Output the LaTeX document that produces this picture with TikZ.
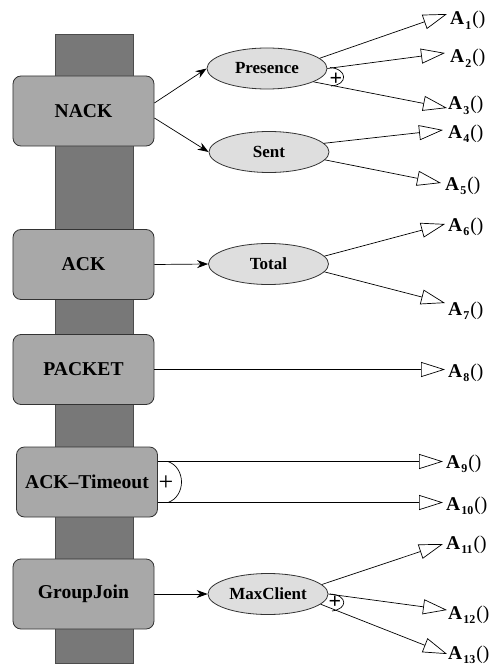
\documentclass[tikz,border=0pt]{standalone}
\usepackage{fontspec}
\setmainfont{Liberation Serif}
\usetikzlibrary{arrows.meta,shapes.geometric}
\definecolor{colfill}{gray}{0.47}
\definecolor{boxfill}{gray}{0.66}
\definecolor{ellfill}{gray}{0.87}
\newcommand{\alab}[1]{\textbf{A}\kern1bp\raisebox{-4.5bp}{\fontsize{12bp}{12bp}\selectfont\textbf{#1}}\kern1bp()}
\begin{document}
\begin{tikzpicture}[x=1bp,y=-1bp,
  box/.style={draw=black!80, fill=boxfill, rounded corners=8bp, minimum width=141bp, minimum height=70bp, inner sep=0, font=\fontsize{19.6bp}{22bp}\selectfont\bfseries, line width=0.8bp},
  ell/.style={ellipse, draw=black!80, fill=ellfill, minimum width=120bp, minimum height=41bp, inner sep=0, font=\fontsize{17bp}{19bp}\selectfont\bfseries, line width=0.8bp},
  lbl/.style={anchor=base west, inner sep=0, font=\fontsize{19.5bp}{21bp}\selectfont},
  trig/.style={-{Triangle[open,length=24bp,width=15bp]}, line width=0.7bp},
  sarrow/.style={-{Stealth[length=11bp,width=8bp]}, line width=0.7bp},
  plain/.style={line width=0.7bp},
  plus/.style={inner sep=0, font=\fontsize{#1}{#1}\selectfont},
]
\useasboundingbox (0,0) rectangle (494,668);
% column
\draw[fill=colfill, draw=black!70, line width=0.6bp] (55,34) rectangle (133,663);
% boxes
\node[box] (nack) at (83.5,111) {NACK};
\node[box] (ack) at (83.5,264.5) {ACK};
\node[box] (packet) at (83.5,369.5) {PACKET};
\node[box] (ackto) at (87,482) {ACK--Timeout};
\node[box] (gj) at (83.5,594) {GroupJoin};
% ellipses
\node[ell] (pres) at (267,68.5) {Presence};
\node[ell] (sent) at (269,152) {Sent};
\node[ell] (total) at (268.5,264) {Total};
\node[ell] (maxc) at (268,594) {MaxClient};
% tips
\coordinate (t1) at (447,14);
\coordinate (t2) at (445,53);
\coordinate (t3) at (447,108);
\coordinate (t4) at (443,130);
\coordinate (t5) at (441,183);
\coordinate (t6) at (445,224);
\coordinate (t7) at (445,303);
\coordinate (t8) at (445,369.5);
\coordinate (t9) at (443,461.5);
\coordinate (t10) at (443,502.5);
\coordinate (t11) at (443,544);
\coordinate (t12) at (447,610);
\coordinate (t13) at (447,654);
% labels
\node[lbl] (a1) at (450,25) {\alab{1}};
\node[lbl] (a2) at (450,63) {\alab{2}};
\node[lbl] (a3) at (448,110) {\alab{3}};
\node[lbl] (a4) at (448,138) {\alab{4}};
\node[lbl] (a5) at (445,190) {\alab{5}};
\node[lbl] (a6) at (448,231) {\alab{6}};
\node[lbl] (a7) at (448,315) {\alab{7}};
\node[lbl] (a8) at (448,377) {\alab{8}};
\node[lbl] (a9) at (446,468) {\alab{9}};
\node[lbl] (a10) at (446,510) {\alab{10}};
\node[lbl] (a11) at (446,549) {\alab{11}};
\node[lbl] (a12) at (448,619) {\alab{12}};
\node[lbl] (a13) at (448,659) {\alab{13}};
% box to ellipse
\draw[sarrow] ([yshift=8bp]nack.east) -- (pres.west);
\draw[sarrow] ([yshift=-7bp]nack.east) -- (sent.west);
\draw[sarrow] (ack.east) -- (total.west);
\draw[sarrow] (gj.east) -- (maxc.west);
% to actions
\draw[trig] (pres.11) -- (t1);
\draw[trig] (pres.east) -- (t2);
\draw[trig] (pres.-16) -- (t3);
\draw[trig] (sent.9) -- (t4);
\draw[trig] (sent.-8) -- (t5);
\draw[trig] (total.8) -- (t6);
\draw[trig] (total.-8) -- (t7);
\draw[trig] (packet.east |- t8) -- (t8);
\draw[trig] (ackto.east |- t9) -- (t9);
\draw[trig] (ackto.east |- t10) -- (t10);
\draw[trig] (maxc.10) -- (t11);
\draw[trig] (maxc.east) -- (t12);
\draw[trig] (maxc.-11) -- (t13);
% plus marks
\draw[plain] (330,67.5) .. controls (348,69) and (348,85) .. (331,86);
\node[plus=22bp] (p1) at (336,79) {\textbf{+}};
\draw[plain] (168,461.5) .. controls (186,468) and (186,496) .. (168,502.5);
\node[plus=26bp] (p2) at (166,483) {+};
\draw[plain] (330,594) .. controls (348,595) and (348,609) .. (332,611);
\node[plus=22bp] (p3) at (335,602) {\textbf{+}};
\end{tikzpicture}
\end{document}
